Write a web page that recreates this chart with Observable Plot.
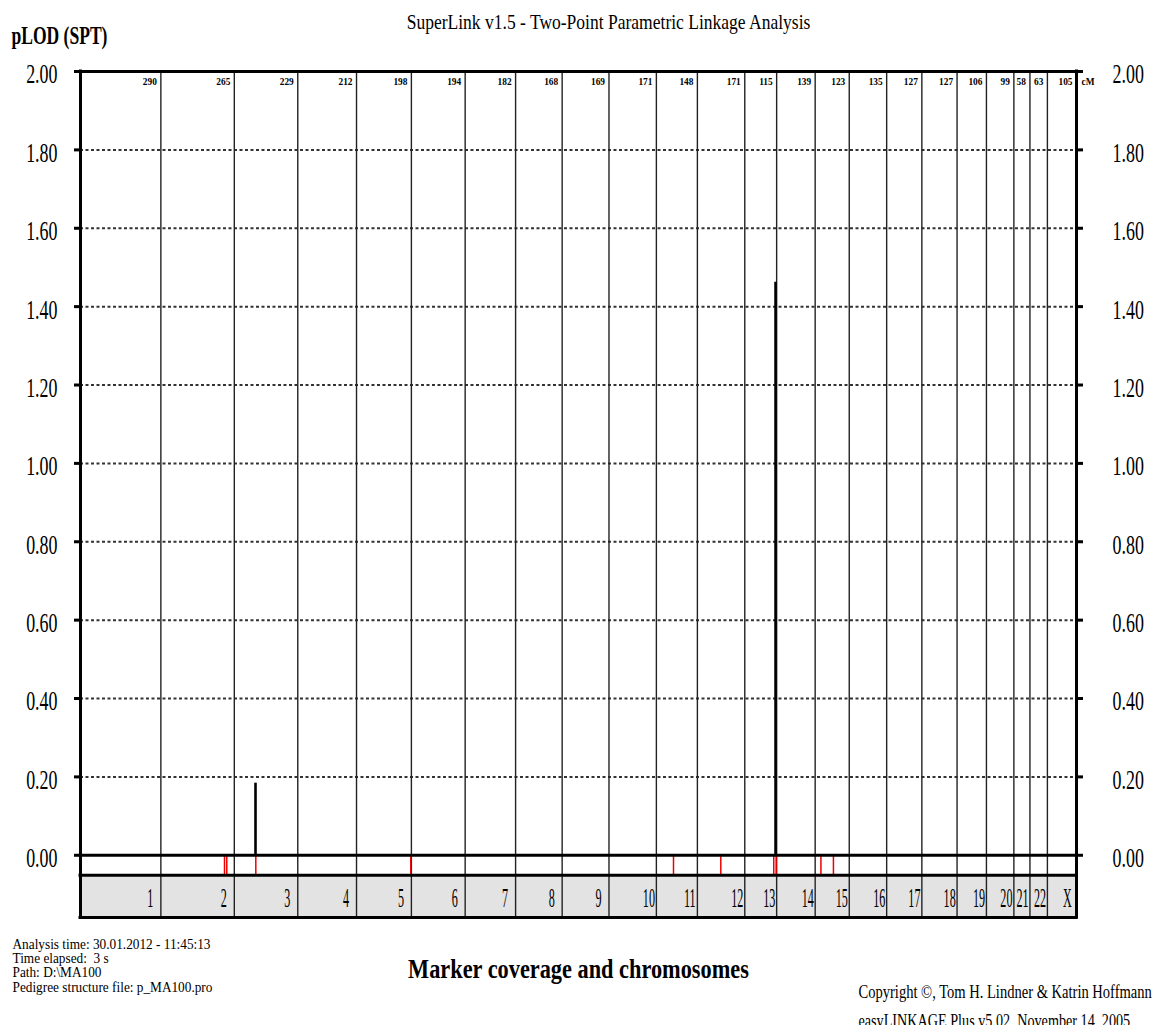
<!DOCTYPE html>
<html><head><meta charset="utf-8">
<script src="https://cdn.jsdelivr.net/npm/d3@7"></script>
<script src="https://cdn.jsdelivr.net/npm/@observablehq/plot@0.6"></script>
<style>
html,body{margin:0;padding:0;background:#fff;overflow:hidden;}
svg text{white-space:pre;}
</style></head><body>
<div id="chart"></div>
<script>
// ---- data ----
const chromosomes = ["1","2","3","4","5","6","7","8","9","10","11","12","13","14","15","16","17","18","19","20","21","22","X"];
const lengthsCM = [290,265,229,212,198,194,182,168,169,171,148,171,115,139,123,135,127,127,106,99,58,63,105];
const peakChrom = ["3","13"];
const peakPosCM = [76.5, 111];
const peakLOD = [0.184, 1.462];
const markerChrom = ["2","2","3","5","11","12","13","13","15","15"];
const markerPosCM = [229.6, 237.9, 77.6, 195.9, 61.8, 84.5, 104.5, 113.2, 20.8, 65.9];
const yTicks = [0, 0.2, 0.4, 0.6, 0.8, 1.0, 1.2, 1.4, 1.6, 1.8, 2.0];
const titleText = "SuperLink v1.5 - Two-Point Parametric Linkage Analysis";
const yTitle = "pLOD (SPT)";
const xTitle = "Marker coverage and chromosomes";
const footerLines = ["Analysis time: 30.01.2012 - 11:45:13", "Time elapsed:  3 s", "Path: D:\\MA100", "Pedigree structure file: p_MA100.pro"];
const copyright1 = "Copyright \u00a9, Tom H. Lindner & Katrin Hoffmann";
const copyright2 = "easyLINKAGE Plus v5.02, November 14, 2005";

// ---- derived ----
const ends = Array.from(d3.cumsum(lengthsCM));
const total = ends[ends.length - 1];
const chromTable = chromosomes.map((c, i) => ({chrom: c, len: lengthsCM[i], start: ends[i] - lengthsCM[i], end: ends[i]}));
const startOf = new Map(chromTable.map(d => [d.chrom, d.start]));
const peaks = peakChrom.map((c, i) => ({x: startOf.get(c) + peakPosCM[i], lod: peakLOD[i]}));
const markers = markerChrom.map((c, i) => ({x: startOf.get(c) + markerPosCM[i]}));
const STRIP = -0.051;   // bottom of marker strip (LOD units below 0)
const BAND = -0.1588;   // bottom of chromosome band

// text marks, in order, with their horizontal squeeze (k) or target width (w)
const textSpecs = [];
function txt(data, opts, squeezeSpec) { textSpecs.push(squeezeSpec); return Plot.text(data, opts); }

const plot = Plot.plot({
  width: 1157, height: 1025,
  marginLeft: 80, marginRight: 81, marginTop: 71, marginBottom: 108,
  style: {background: "#fff", color: "#000", fontFamily: "'Liberation Serif','Times New Roman',serif", overflow: "hidden"},
  x: {domain: [0, total], axis: null},
  y: {domain: [BAND, 2]},
  marks: [
    Plot.rect(chromTable, {x1: "start", x2: "end", y1: BAND, y2: STRIP, fill: "#e3e3e3"}),
    Plot.ruleY(yTicks.filter(v => v > 0 && v < 2), {stroke: "#333", strokeWidth: 2, strokeDasharray: "3,2.5"}),
    Plot.ruleX(ends.slice(0, -1), {y1: BAND, y2: 2, stroke: "#222", strokeWidth: 1.4}),
    Plot.ruleX(peaks, {x: "x", y1: 0, y2: "lod", stroke: "#000", strokeWidth: 2.6}),
    Plot.ruleX(markers, {x: "x", y1: STRIP, y2: 0, stroke: "#ee0000", strokeWidth: 1.5}),
    Plot.ruleY([2, 0, STRIP, BAND], {stroke: "#000", strokeWidth: 3, strokeLinecap: "square"}),
    Plot.ruleX([0, total], {y1: BAND, y2: 2, stroke: "#000", strokeWidth: 3, strokeLinecap: "square"}),
    Plot.axisY({anchor: "left", ticks: yTicks, tickSize: 6, strokeWidth: 3, tickFormat: () => "", label: null}),
    Plot.axisY({anchor: "right", ticks: yTicks, tickSize: 6, strokeWidth: 3, tickFormat: () => "", label: null}),
    // tick labels
    txt(yTicks, {y: d => d, text: d => d.toFixed(2), frameAnchor: "left", textAnchor: "end", dx: -23, dy: 3, fontSize: 28}, {k: 0.64}),
    txt(yTicks, {y: d => d, text: d => d.toFixed(2), frameAnchor: "right", textAnchor: "start", dx: 36, dy: 3, fontSize: 28}, {k: 0.64}),
    // chromosome lengths on top
    txt(chromTable, {x: "end", y: 2, text: d => String(d.len), textAnchor: "end", dx: -4, dy: 10, fontSize: 11, fontWeight: "bold"}, {k: 0.85}),
    txt(["cM"], {x: total, y: 2, text: d => d, textAnchor: "start", dx: 5, dy: 10, fontSize: 11, fontWeight: "bold"}, {k: 0.85}),
    // chromosome names
    txt(chromTable, {x: "end", y: (STRIP + BAND) / 2, text: "chrom", textAnchor: "start", dx: -13.5, dy: 2, fontSize: 27}, {k: 0.45}),
    // titles
    txt([titleText], {text: d => d, frameAnchor: "top", dx: 30, dy: -58, fontSize: 22}, {w: 404}),
    txt([yTitle], {text: d => d, frameAnchor: "top-left", textAnchor: "start", dx: -69, dy: -46, fontSize: 26, fontWeight: "bold"}, {w: 96}),
    txt([xTitle], {text: d => d, frameAnchor: "bottom", dy: 60, fontSize: 27, fontWeight: "bold"}, {w: 341}),
    txt([footerLines.join("\n")], {text: d => d, frameAnchor: "bottom-left", textAnchor: "start", lineAnchor: "top", lineHeight: 1.0, dx: -68, dy: 21, fontSize: 14.3}, {w: 200}),
    txt([copyright1], {text: d => d, frameAnchor: "bottom-left", textAnchor: "start", dx: 778, dy: 80, fontSize: 19}, {w: 294}),
    txt([copyright2], {text: d => d, frameAnchor: "bottom-left", textAnchor: "start", dx: 778, dy: 109, fontSize: 19}, {w: 272})
  ]
});
document.getElementById("chart").append(plot);

const textGroups = plot.querySelectorAll('g[aria-label="text"]');
textGroups.forEach((g, i) => {
  const spec = textSpecs[i];
  if (!spec) return;
  g.querySelectorAll("text").forEach(t => {
    const k = spec.w ? spec.w / t.getBBox().width : spec.k;
    t.setAttribute("transform", `${t.getAttribute("transform") || ""} scale(${k},1)`);
  });
});
</script></body></html>
